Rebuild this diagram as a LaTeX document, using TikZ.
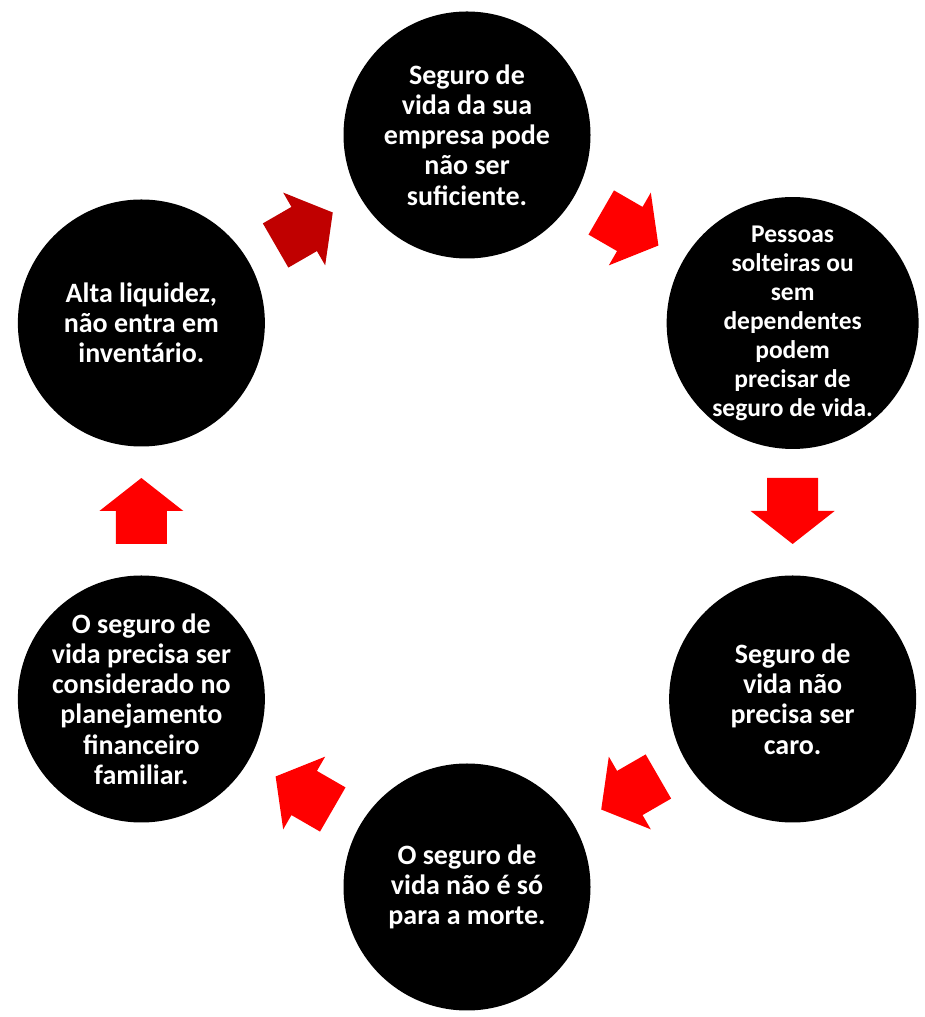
\documentclass[tikz,border=0pt]{standalone}
\usepackage{fontspec}
\setmainfont{Carlito}
\usetikzlibrary{calc}
\definecolor{arrowred}{HTML}{FF0000}
\definecolor{arrowdark}{HTML}{C00000}
\tikzset{
  stage/.style={circle, fill=black, minimum size=247pt, inner sep=0pt, text=white,
    align=center, font=\bfseries\fontsize{28}{30.2}\selectfont},
}
\newcommand\cyclearrow[4]{%
  \begin{scope}[shift={($(#1)!0.5!(#2)$)}, rotate=#3]
    \fill[#4] (-33,25.5) -- (0,25.5) -- (0,42) -- (33,0) -- (0,-42) -- (0,-25.5) -- (-33,-25.5) -- cycle;
  \end{scope}}
\begin{document}
\begin{tikzpicture}[x=1pt,y=1pt]
\useasboundingbox[fill=white] (0,0) rectangle (924,1017);
\coordinate (ctr) at (467,506);
\node[stage] (n1) at ($(ctr)+(90:376)$) {Seguro de\\vida da sua\\empresa pode\\não ser\\suficiente.};
\node[stage, font=\bfseries\fontsize{25.5}{29}\selectfont] (n2) at ($(ctr)+(30:376)$) {Pessoas\\solteiras ou\\sem\\dependentes\\podem\\precisar de\\seguro de vida.};
\node[stage] (n3) at ($(ctr)+(-30:376)$) {Seguro de\\vida não\\precisa ser\\caro.};
\node[stage] (n4) at ($(ctr)+(-90:376)$) {O seguro de\\vida não é só\\para a morte.};
\node[stage] (n5) at ($(ctr)+(-150:376)$) {O seguro de\\vida precisa ser\\considerado no\\planejamento\\financeiro\\familiar.};
\node[stage] (n6) at ($(ctr)+(150:376)$) {Alta liquidez,\\não entra em\\inventário.};
\cyclearrow{n1}{n2}{-30}{arrowred}
\cyclearrow{n2}{n3}{-90}{arrowred}
\cyclearrow{n3}{n4}{-150}{arrowred}
\cyclearrow{n4}{n5}{150}{arrowred}
\cyclearrow{n5}{n6}{90}{arrowred}
\cyclearrow{n6}{n1}{30}{arrowdark}
\end{tikzpicture}
\end{document}
